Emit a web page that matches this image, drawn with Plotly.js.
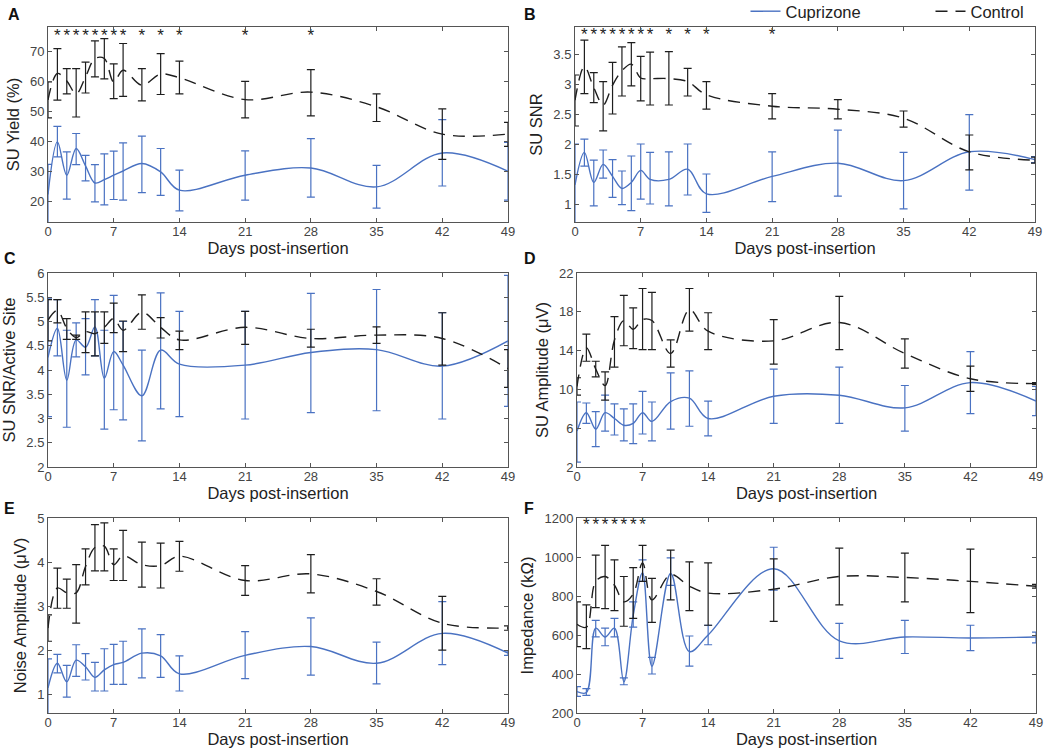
<!DOCTYPE html>
<html><head><meta charset="utf-8">
<script src="https://cdn.plot.ly/plotly-3.0.1.min.js"></script>
<style>html,body{margin:0;padding:0;background:#fff}#chart{width:1050px;height:755px}</style>
</head><body><div id="chart"></div>
<script>
// ---------- data ----------
const days = [0,1,2,3,4,5,6,7,8,10,12,14,21,28,35,42,49];
const xTickVals = [0,7,14,21,28,35,42,49];
const seriesNames = ['Cuprizone','Control'];

// A: SU Yield (%)
const yieldCupMean = [22.5,40,28.9,37.8,32,26.3,27.4,28.9,30.3,32.8,30,23.9,28.9,31.3,25,36.3,30.2];
const yieldCupLo   = [12,35,20.9,32.4,27,20,19,20.8,20.6,23.1,22.2,17,20.6,21.6,17.9,25.3,20.6];
const yieldCupHi   = [32.5,45.2,36.7,42.8,35.5,32.4,36,36.9,39.7,41.9,37.8,30.6,37,41.1,32.2,47.4,39.8];
const yieldCtlMean = [54,62.8,60.3,56,61.7,67.8,67.8,60,63.9,58.9,62.6,61.4,54.1,56.6,51.7,42.6,42.6];
const yieldCtlLo   = [48,53.9,56,48.3,56.3,61.7,61,54.4,55.2,53.7,55.8,56,48,48.7,46.8,34.2,38.5];
const yieldCtlHi   = [60,71.1,64.4,64.4,66.6,73.7,74.4,66,72.8,64.4,69.4,66.9,60.2,64.1,56,51,46.5];
const yieldStars   = [1,2,3,4,5,6,7,8,10,12,14,21,28];

// B: SU SNR
const snrCupMean = [1.32,1.86,1.36,1.66,1.46,1.26,1.36,1.56,1.41,1.41,1.58,1.17,1.46,1.68,1.39,1.87,1.74];
const snrCupLo   = [0.65,1.63,0.97,1.43,1.11,0.99,0.89,1.08,1.0,0.97,1.15,0.86,1.04,1.13,0.92,1.23,1.69];
const snrCupHi   = [2.0,2.08,1.73,1.9,1.74,1.55,1.8,2.0,1.86,1.87,2.0,1.5,1.87,2.23,1.86,2.49,1.79];
const snrCtlMean = [2.73,3.29,2.94,2.65,2.98,3.22,3.33,3.1,3.09,3.09,3.04,2.82,2.63,2.58,2.43,1.87,1.73];
const snrCtlLo   = [2.3,2.84,2.69,2.22,2.5,2.8,2.97,2.72,2.65,2.65,2.8,2.58,2.42,2.42,2.28,1.57,1.68];
const snrCtlHi   = [3.15,3.73,3.19,3.04,3.36,3.62,3.69,3.46,3.53,3.54,3.26,3.04,2.84,2.74,2.55,2.15,1.78];
const snrStars   = [1,2,3,4,5,6,7,8,10,12,14,21];

// C: SU SNR/Active Site
const siteCupMean = [4.26,4.86,3.79,4.62,4.47,4.89,3.83,4.38,4.1,3.47,4.41,4.12,4.1,4.36,4.42,4.08,4.6];
const siteCupLo   = [3.04,4.29,2.82,4.27,3.9,4.29,2.78,3.18,2.97,2.54,3.2,3.04,2.99,3.12,3.16,2.99,3.25];
const siteCupHi   = [5.48,5.45,4.82,4.97,5.06,5.45,4.82,5.54,5.0,4.41,5.59,5.21,5.21,5.58,5.66,5.18,5.95];
const siteCtlMean = [5.03,5.23,4.86,4.67,4.79,4.75,4.88,5.06,4.82,5.19,4.88,4.62,4.88,4.65,4.72,4.65,4.03];
const siteCtlLo   = [4.6,4.97,4.63,4.63,4.36,4.29,4.55,4.77,4.38,4.84,4.66,4.42,4.53,4.47,4.55,4.1,3.64];
const siteCtlHi   = [5.45,5.45,5.06,4.72,5.2,5.2,5.2,5.38,5.01,5.55,5.08,4.8,5.21,4.84,4.89,5.18,4.42];

// D: SU Amplitude (μV)
const ampCupMean = [5.7,7.6,5.9,7.6,7.0,6.3,6.5,7.6,6.7,8.75,9.1,7.0,9.3,9.4,8.1,10.7,8.8];
const ampCupLo   = [2.5,6.5,4.1,5.7,5.3,4.7,4.4,5.4,4.7,5.9,6.2,5.2,6.5,6.5,5.7,7.5,7.3];
const ampCupHi   = [8.7,8.6,7.7,9.4,8.5,8.0,8.5,9.8,8.7,11.7,11.9,8.8,12.1,12.3,10.4,13.9,10.3];
const ampCtlMean = [10.3,14.3,12.1,10.4,15.1,17.1,16.2,17.2,17.1,13.7,18.2,16.0,15.0,16.9,13.7,11.1,10.6];
const ampCtlLo   = [9.4,12.9,11.3,8.9,12.3,14.5,14.2,14.1,14.1,12.3,16.0,14.1,12.6,14.1,12.2,9.8,10.5];
const ampCtlHi   = [11.2,15.7,12.9,11.8,17.5,19.7,18.4,20.4,20.0,15.1,20.4,17.9,17.2,19.6,15.2,12.4,10.7];

// E: Noise Amplitude (μV)
const noiseCupMean = [1.14,1.7,1.28,1.77,1.62,1.38,1.55,1.67,1.72,1.93,1.87,1.46,1.88,2.08,1.7,2.38,1.93];
const noiseCupLo   = [0.5,1.48,0.93,1.4,1.32,1.07,1.07,1.22,1.22,1.37,1.38,1.07,1.35,1.43,1.23,1.67,1.88];
const noiseCupHi   = [1.8,1.9,1.65,2.12,1.92,1.72,2.03,2.13,2.2,2.48,2.35,1.87,2.42,2.73,2.18,3.1,1.98];
const noiseCtlMean = [2.5,3.41,3.3,3.3,3.9,4.33,4.36,3.94,4.14,3.94,3.92,4.13,3.58,3.73,3.33,2.61,2.5];
const noiseCtlLo   = [2.2,2.95,2.95,2.61,3.48,3.8,3.8,3.58,3.58,3.43,3.41,3.79,3.24,3.3,3.02,2.0,2.45];
const noiseCtlHi   = [2.8,3.86,3.61,3.94,4.3,4.85,4.89,4.3,4.72,4.45,4.43,4.47,3.92,4.17,3.62,3.22,2.55];

// F: Impedance (kΩ)
const impCupMean = [310,305,635,590,635,360,700,920,440,915,515,600,940,570,590,585,590];
const impCupLo   = [285,290,590,545,590,345,640,875,400,855,440,550,830,480,505,520,560];
const impCupHi   = [335,325,675,635,685,380,770,985,485,995,595,650,1050,660,675,650,615];
const impCtlMean = [655,640,875,900,855,770,810,970,780,910,850,815,835,900,895,875,850];
const impCtlLo   = [540,530,740,735,725,645,685,875,665,780,725,650,670,755,770,715,840];
const impCtlHi   = [770,755,1010,1060,985,900,945,1060,890,1035,975,970,990,1045,1020,1040,860];
const impStars   = [1,2,3,4,5,6,7];

// ---------- styling ----------
const BLUE = '#4a72c2';
const BLACK = '#1e1e1e';
const FONT = 'Liberation Sans, Arial, sans-serif';

const panels = [
  {cup:[yieldCupMean,yieldCupLo,yieldCupHi], ctl:[yieldCtlMean,yieldCtlLo,yieldCtlHi], stars:yieldStars, starY:75.2,
   title:'SU Yield (%)', range:[13.3,78.3], tickvals:[20,30,40,50,60,70], dx:[48,508], dy:[27,222], label:'A', lab:[6,15]},
  {cup:[snrCupMean,snrCupLo,snrCupHi], ctl:[snrCtlMean,snrCtlLo,snrCtlHi], stars:snrStars, starY:3.8,
   title:'SU SNR', range:[0.7,3.95], tickvals:[1,1.5,2,2.5,3,3.5], dx:[575,1035], dy:[27,222], label:'B', lab:[522,15]},
  {cup:[siteCupMean,siteCupLo,siteCupHi], ctl:[siteCtlMean,siteCtlLo,siteCtlHi], stars:null,
   title:'SU SNR/Active Site', range:[2,6], tickvals:[2,2.5,3,3.5,4,4.5,5,5.5,6], dx:[48,508], dy:[273,467], label:'C', lab:[2,259]},
  {cup:[ampCupMean,ampCupLo,ampCupHi], ctl:[ampCtlMean,ampCtlLo,ampCtlHi], stars:null,
   title:'SU Amplitude (μV)', range:[2,22], tickvals:[2,6,10,14,18,22], dx:[577,1036], dy:[273,467], label:'D', lab:[522,259]},
  {cup:[noiseCupMean,noiseCupLo,noiseCupHi], ctl:[noiseCtlMean,noiseCtlLo,noiseCtlHi], stars:null,
   title:'Noise Amplitude (μV)', range:[0.57,5], tickvals:[1,2,3,4,5], dx:[48,508], dy:[518,713], label:'E', lab:[2,509]},
  {cup:[impCupMean,impCupLo,impCupHi], ctl:[impCtlMean,impCtlLo,impCtlHi], stars:impStars, starY:1158,
   title:'Impedance (kΩ)', range:[200,1200], tickvals:[200,400,600,800,1000,1200], dx:[577,1036], dy:[518,713], label:'F', lab:[522,509]}
];

const W = 1050, H = 755;
const traces = [];
const layout = {
  width: W, height: H,
  margin: {l:0, r:0, t:0, b:0, autoexpand:false},
  paper_bgcolor: '#ffffff', plot_bgcolor: '#ffffff',
  font: {family: FONT, color: '#333'},
  showlegend: true,
  legend: {orientation:'h', x:0.71, y:1.008, xanchor:'left', yanchor:'top',
           font:{size:16.5, color:'#222', family:FONT}, bgcolor:'rgba(0,0,0,0)', entrywidth:140},
  annotations: []
};

function errs(mean, lo, hi) {
  return {
    type:'data', symmetric:false,
    array: hi.map((h,i)=>+(h-mean[i]).toFixed(4)),
    arrayminus: lo.map((l,i)=>+(mean[i]-l).toFixed(4))
  };
}

panels.forEach((p, k) => {
  const n = k + 1;
  const xa = n === 1 ? 'x' : 'x' + n;
  const ya = n === 1 ? 'y' : 'y' + n;
  const xk = n === 1 ? 'xaxis' : 'xaxis' + n;
  const yk = n === 1 ? 'yaxis' : 'yaxis' + n;

  traces.push({
    x: days, y: p.cup[0], xaxis: xa, yaxis: ya, type:'scatter', mode:'lines',
    name: seriesNames[0], legendgroup:'cup', showlegend: k === 0,
    line: {color: BLUE, width: 1.4, shape:'spline', smoothing: 1},
    error_y: Object.assign(errs(p.cup[0], p.cup[1], p.cup[2]), {color: BLUE, thickness: 1.2, width: 4}),
    hoverinfo:'x+y'
  });
  traces.push({
    x: days, y: p.ctl[0], xaxis: xa, yaxis: ya, type:'scatter', mode:'lines',
    name: seriesNames[1], legendgroup:'ctl', showlegend: k === 0,
    line: {color: BLACK, width: 1.4, dash:'12px,8px', shape:'spline', smoothing: 1},
    error_y: Object.assign(errs(p.ctl[0], p.ctl[1], p.ctl[2]), {color: BLACK, thickness: 1.2, width: 4}),
    hoverinfo:'x+y'
  });
  if (p.stars) {
    traces.push({
      x: p.stars, y: p.stars.map(()=>p.starY), xaxis: xa, yaxis: ya, type:'scatter', mode:'text',
      text: p.stars.map(()=>'*'), textposition:'middle center', showlegend:false, hoverinfo:'skip',
      textfont: {size: 17, color: '#222', family: FONT}
    });
  }

  layout[xk] = {
    domain: [p.dx[0]/W, p.dx[1]/W], anchor: ya, range: [0,49],
    tickvals: xTickVals, ticks:'inside', ticklen:4, tickcolor:'#555',
    showline:true, mirror:'ticks', linecolor:'#555', linewidth:1,
    showgrid:false, zeroline:false, automargin:false,
    tickfont:{size:13, color:'#444', family:FONT}, ticklabelstandoff:-3,
    title:{text:'Days post-insertion', font:{size:16.5, color:'#222', family:FONT}, standoff:2}
  };
  layout[yk] = {
    domain: [1 - p.dy[1]/H, 1 - p.dy[0]/H], anchor: xa, range: p.range,
    tickvals: p.tickvals, ticks:'inside', ticklen:4, tickcolor:'#555',
    showline:true, mirror:'ticks', linecolor:'#555', linewidth:1,
    showgrid:false, zeroline:false, automargin:false,
    tickfont:{size:13, color:'#444', family:FONT},
    title:{text:p.title, font:{size:16.5, color:'#222', family:FONT}, standoff:6}
  };
  layout.annotations.push({
    text: '<b>' + p.label + '</b>', xref:'paper', yref:'paper',
    x: p.lab[0]/W, y: 1 - p.lab[1]/H, xanchor:'left', yanchor:'middle',
    showarrow:false, font:{size:16, color:'#111', family:FONT}
  });
});

Plotly.newPlot('chart', traces, layout, {staticPlot:true, displayModeBar:false});
</script>
</body></html>
